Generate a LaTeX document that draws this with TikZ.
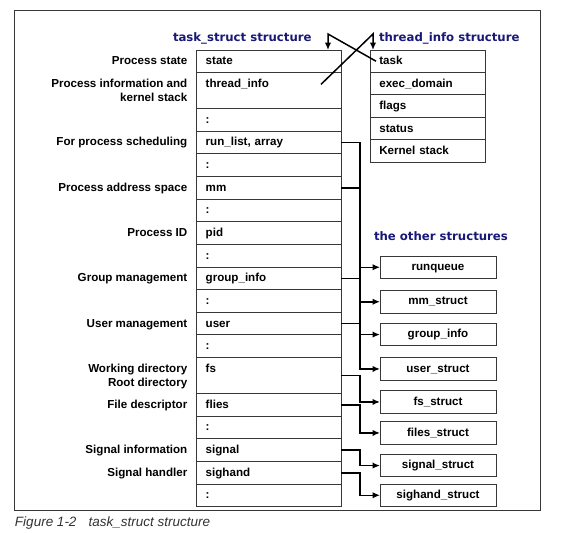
\documentclass[tikz,border=0pt]{standalone}
\usepackage{fontspec}
\setmainfont{Liberation Sans}
\newfontfamily\titlefont{DejaVu Sans}
\usetikzlibrary{arrows.meta,calc}
\definecolor{navy}{RGB}{24,24,120}
\definecolor{linegray}{RGB}{55,55,55}
\definecolor{capgray}{RGB}{50,50,50}
\begin{document}
\begin{tikzpicture}[x=1pt,y=-1pt,
  every node/.style={outer sep=0pt},
  txt/.style={font=\bfseries\fontsize{11.6}{14.3}\selectfont},
  cell/.style={txt, draw=linegray, line width=1pt, anchor=north west,
    text width=125.6pt, align=left, inner xsep=9.7pt, inner ysep=0pt,
    minimum height=22.63pt, text height=14.7pt, text depth=7.93pt},
  dcell/.style={cell, minimum height=36pt, text depth=21.3pt},
  tcell/.style={cell, text width=97.1pt, inner xsep=8.6pt,
    minimum height=22.4pt, text height=14.9pt, text depth=7.5pt},
  ocell/.style={txt, draw=linegray, line width=1pt, anchor=north west,
    minimum width=116pt, minimum height=22.5pt, inner sep=0pt,
    text height=8.6pt, text depth=2.4pt},
  lab/.style={txt, inner sep=0pt, anchor=base east},
  labtwo/.style={txt, inner sep=0pt, anchor=north east, align=right},
  title/.style={font=\titlefont\bfseries\fontsize{11.7}{14}\selectfont,
    text=navy, inner sep=0pt, anchor=base west},
  conn/.style={draw=black, line width=1.5pt,
    -{Latex[length=7.5pt,width=6.5pt]}},
]
\useasboundingbox (0,0) rectangle (563,533);
\draw[linegray, line width=1pt] (14,10.7) rectangle (540.7,510.7);

% titles
\node[title] (tt1) at (173,41.5) {task\_struct structure};
\node[title] (tt2) at (379,41.5) {thread\_info structure};
\node[title] (tt3) at (374,240) {the other structures};

% task_struct column
\node[cell]  (r1)  at (196,50) {state};
\node[dcell] (r2)  at (r1.south west) {thread\_info};
\node[cell]  (r3)  at (r2.south west) {:};
\node[cell]  (r4)  at (r3.south west) {run\_list, array};
\node[cell]  (r5)  at (r4.south west) {:};
\node[cell]  (r6)  at (r5.south west) {mm};
\node[cell]  (r7)  at (r6.south west) {:};
\node[cell]  (r8)  at (r7.south west) {pid};
\node[cell]  (r9)  at (r8.south west) {:};
\node[cell]  (r10) at (r9.south west) {group\_info};
\node[cell]  (r11) at (r10.south west) {:};
\node[cell]  (r12) at (r11.south west) {user};
\node[cell]  (r13) at (r12.south west) {:};
\node[dcell] (r14) at (r13.south west) {fs};
\node[cell]  (r15) at (r14.south west) {flies};
\node[cell]  (r16) at (r15.south west) {:};
\node[cell]  (r17) at (r16.south west) {signal};
\node[cell]  (r18) at (r17.south west) {sighand};
\node[cell]  (r19) at (r18.south west) {:};

% labels
\node[lab] (l1) at ($(r1.base west)+(-8.7,0)$) {Process state};
\node[labtwo] (l2) at ($(r2.north west)+(-8.7,5.7)$) {\rule{0pt}{9pt}Process information and\\kernel stack};
\node[lab] (l4) at ($(r4.base west)+(-8.7,0)$) {For process scheduling};
\node[lab] (l6) at ($(r6.base west)+(-8.7,0)$) {Process address space};
\node[lab] (l8) at ($(r8.base west)+(-8.7,0)$) {Process ID};
\node[lab] (l10) at ($(r10.base west)+(-8.7,0)$) {Group management};
\node[lab] (l12) at ($(r12.base west)+(-8.7,0)$) {User management};
\node[labtwo] (l14) at ($(r14.north west)+(-8.7,5.7)$) {\rule{0pt}{9pt}Working directory\\Root directory};
\node[lab] (l15) at ($(r15.base west)+(-8.7,0)$) {File descriptor};
\node[lab] (l17) at ($(r17.base west)+(-8.7,0)$) {Signal information};
\node[lab] (l18) at ($(r18.base west)+(-8.7,0)$) {Signal handler};

% thread_info column
\node[tcell] (t1) at (370.7,50) {task};
\node[tcell] (t2) at (t1.south west) {exec\_domain};
\node[tcell] (t3) at (t2.south west) {flags};
\node[tcell] (t4) at (t3.south west) {status};
\node[tcell] (t5) at (t4.south west) {Kernel stack};

% other structures
\node[ocell] (o1) at (380,256)   {runqueue};
\node[ocell] (o2) at (380,290.5) {mm\_struct};
\node[ocell] (o3) at (380,323.3) {group\_info};
\node[ocell] (o4) at (380,357.7) {user\_struct};
\node[ocell] (o5) at (380,390.7) {fs\_struct};
\node[ocell] (o6) at (380,421.7) {files\_struct};
\node[ocell] (o7) at (380,454.3) {signal\_struct};
\node[ocell] (o8) at (380,484)   {sighand\_struct};

% pointers between task_struct and thread_info
\draw[conn] ($(t1.west)+(5.3,0)$) -- ($(r1.north east)+(-13,-16)$) -- ($(r1.north east)+(-13,0)$);
\draw[conn] ($(r2.north east)+(-20,11.7)$) -- ($(t1.north west)+(2.3,-16)$) -- ($(t1.north west)+(2.3,0)$);

% connectors to other structures
\draw[conn] (r4.east)  -- ++(19,0) |- (o1.west);
\draw[conn] (r6.east)  -- ++(19,0) |- (o2.west);
\draw[conn] (r10.east) -- ++(19,0) |- (o3.west);
\draw[conn] (r12.east) -- ++(19,0) |- (o4.west);
\draw[conn] (r14.east) -- ++(19,0) |- (o5.west);
\draw[conn] (r15.east) -- ++(19,0) |- (o6.west);
\draw[conn] (r17.east) -- ++(19,0) |- (o7.west);
\draw[conn] (r18.east) -- ++(19,0) |- (o8.west);

% caption
\node[inner sep=0pt, anchor=base west, font=\itshape\fontsize{13.5}{16}\selectfont, text=capgray] (cap) at (15,526) {Figure 1-2\hspace{12pt}task\_struct structure};
\end{tikzpicture}
\end{document}
